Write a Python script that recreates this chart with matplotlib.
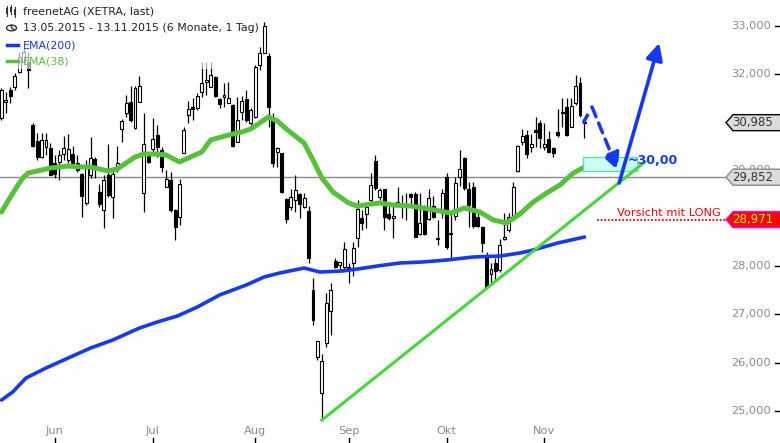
import matplotlib
matplotlib.use("Agg")
from matplotlib import pyplot as plt
from matplotlib.patches import Polygon, Rectangle, Circle

# daily candles 13.05.2015 - 13.11.2015 (freenet AG, XETRA)
opens = [31082, 31414, 31664, 31726, 32038, 32246, 32246, 30937, 30604, 30272,
         30479, 30459, 30147, 30168, 30334, 30209, 30334, 30147, 29918, 29316,
         29898, 30230, 29544, 29170, 29898, 29440, 30043, 30853, 31186, 31414,
         30874, 31414, 29524, 30313, 30438, 30729, 30417, 29648, 29794, 29170,
         29025, 30355, 31144, 31311, 31290, 31622, 31830, 31726, 31934, 31477,
         31518, 31394, 31352, 30583, 31207, 31477, 30978, 31103, 32183, 32433,
         32370, 31103, 30376, 30355, 29399, 29233, 29378, 29503, 29233, 29150,
         27508, 26115, 25368, 26407, 27071, 28111, 28027, 27986, 27986, 28069,
         28588, 29004, 29087, 29378, 30188, 29440, 29607, 29087, 29004, 29336,
         29274, 29233, 29503, 29503, 28671, 29170, 28983, 29253, 28588, 29170,
         29856, 28692, 29046, 29856, 30251, 29607, 29648, 29025, 28817, 28173,
         27840, 28069, 27924, 28568, 28755, 29004, 29981, 30583, 30729, 30479,
         30833, 30978, 30479, 30646, 30459, 30791, 31207, 31311, 30895, 31394,
         31809, 31000]
highs = [31705, 31622, 31726, 32017, 32453, 32536, 32453, 30978, 30770, 30770,
         30770, 30563, 30313, 30417, 30708, 30750, 30500, 30313, 29939, 30209,
         30687, 30272, 29711, 29898, 30542, 30064, 30500, 31061, 31560, 31747,
         31747, 31955, 31186, 30376, 31082, 30937, 30479, 30001, 29960, 29191,
         29814, 30895, 31435, 31498, 31601, 32246, 32246, 32246, 31955, 31498,
         31809, 31830, 31380, 31518, 31539, 31664, 31290, 32183, 32557, 33077,
         32433, 31186, 30479, 30355, 29420, 29607, 29898, 29524, 29524, 29253,
         27757, 26448, 26178, 27446, 27653, 28173, 28090, 28505, 28069, 28505,
         29378, 29170, 29316, 29939, 30313, 29627, 29607, 29295, 29295, 29648,
         29482, 29524, 29524, 29544, 29524, 29274, 29607, 29461, 28963, 29607,
         29939, 29087, 29856, 30417, 30272, 29752, 29752, 29170, 28838, 28297,
         28069, 28173, 28568, 29108, 29108, 29752, 30521, 30853, 30833, 30750,
         31103, 31040, 30978, 30812, 30479, 31269, 31498, 31498, 31498, 31976,
         31934, 31040]
lows = [31040, 31186, 31394, 31664, 32017, 32204, 31705, 30479, 30209, 30251,
        30313, 29898, 29835, 29794, 30209, 30147, 30064, 29960, 29025, 29274,
        29835, 29835, 29233, 28796, 29440, 29004, 29960, 30583, 31103, 30999,
        30853, 31414, 29129, 30147, 30376, 30272, 29960, 29648, 29129, 28547,
        28859, 30355, 30978, 31040, 31248, 31518, 31560, 31726, 31518, 31290,
        31311, 31394, 30480, 30583, 31040, 30999, 30937, 31082, 32079, 32433,
        30895, 30064, 30064, 29524, 28900, 29170, 29129, 29004, 29212, 28069,
        26780, 26053, 24806, 26323, 26573, 27965, 27924, 27924, 27653, 27799,
        28401, 28755, 28796, 29336, 29586, 29378, 28755, 28963, 28588, 29274,
        29004, 28963, 29274, 28609, 28651, 28651, 28963, 29004, 28443, 29004,
        28360, 28173, 28963, 29669, 29586, 28817, 28796, 28817, 28297, 27570,
        27653, 27716, 27882, 28547, 28713, 29004, 29960, 30521, 30251, 30376,
        30479, 30459, 30417, 30376, 30272, 30687, 30895, 30708, 30895, 31352,
        31103, 30666]
closes = [31664, 31456, 31539, 31955, 32350, 32453, 32079, 30500, 30272, 30625,
          30625, 29898, 29918, 30313, 30459, 30438, 30147, 30001, 29461, 30043,
          30251, 30022, 29295, 29794, 29482, 29918, 30147, 31020, 31394, 31040,
          31705, 31747, 30542, 30168, 30646, 30479, 30064, 29814, 29170, 28817,
          29711, 30833, 31269, 31269, 31539, 31809, 31872, 31976, 31539, 31373,
          31560, 31498, 30500, 31040, 31435, 31040, 31248, 32142, 32433, 32994,
          31311, 30147, 30459, 29544, 28983, 29440, 29586, 29295, 29420, 28173,
          26884, 26448, 26033, 27238, 27508, 27986, 28090, 28360, 27965, 28381,
          29191, 28900, 29233, 29690, 29627, 29586, 29025, 29004, 29046, 29295,
          29233, 29295, 29440, 28609, 28900, 28671, 29420, 29025, 28568, 29524,
          28401, 28671, 29731, 30022, 29627, 29274, 28838, 28838, 28485, 27570,
          27944, 27903, 28443, 28609, 29025, 29648, 30500, 30708, 30334, 30542,
          30791, 30666, 30542, 30376, 30355, 30729, 31186, 30729, 31331, 31747,
          31144, 30985]

# EMA(38), read at candle positions
ema38_x = [0, 2, 4, 5, 6, 9, 11, 13, 15, 18, 20, 22, 24, 26, 28, 30, 32, 35, 37, 40,
           42, 45, 47, 51, 54, 56, 58, 60, 62, 64, 66, 68, 70, 72, 74.5, 78, 80, 83,
           85, 88, 92, 96, 98.5, 101, 104, 107.5, 110.5, 113.5, 116.5, 119.5, 122.5,
           125.5, 128.5, 131]
ema38 = [29129, 29440, 29731, 29856, 29939, 30001, 30043, 30064, 30085, 30064,
         30064, 30022, 29981, 30022, 30147, 30272, 30334, 30334, 30313, 30168,
         30251, 30376, 30625, 30729, 30791, 30853, 30978, 31103, 31020, 30853,
         30708, 30563, 30209, 29835, 29544, 29316, 29253, 29295, 29316, 29274,
         29253, 29191, 29150, 29108, 29212, 29129, 28963, 28900, 29087, 29336,
         29524, 29690, 29939, 30064]

# EMA(200)
ema200_x = [0, 2.5, 5.5, 10, 15.5, 20, 25, 31, 35, 39.5, 44, 49, 55, 59, 62.5, 68,
            71.5, 76.5, 80, 84.5, 89.5, 94.5, 100, 106, 112, 116.5, 119.5, 125, 131]
ema200 = [25222, 25388, 25679, 25887, 26116, 26302, 26469, 26718, 26843, 26967,
          27154, 27404, 27612, 27778, 27861, 27965, 27882, 27903, 27944, 28007,
          28069, 28090, 28131, 28194, 28214, 28277, 28339, 28485, 28609]

month_pos = [12, 34, 57, 78, 100, 122]
month_names = ["Jun", "Jul", "Aug", "Sep", "Okt", "Nov"]
# 31,000 and 29,000 sit under the price tags
price_ticks = [25000, 26000, 27000, 28000, 30000, 32000, 33000]
hidden_ticks = [29000, 31000]

# drawings
trend_x = [72, 144.6]
trend_y = [24806, 30170]
dash_x = [130.7, 132.7, 138.5]
dash_y = [30978, 31310, 30001]
up_x = [138.8, 147.8]
up_y = [29731, 32640]
box_x = [130.7, 142.8]
box_y = [29981, 30272]
last_price = 30985
line_price = 29852
warn_price = 28971

W, H = 780, 443
fig = plt.figure(figsize=(W / 100, H / 100), dpi=100)
ax = fig.add_axes([0, 0, 1, 1])
ax.set_xlim(-0.337, 174.94)
ax.set_ylim(24329, 33534)
ax.axis("off")

xpp = (174.94 + 0.337) / W      # x data per pixel
ypp = (33534 - 24329) / H       # price per pixel
blue = "#1438ff"
gray = "#8a8a8a"
green = "#55c23a"


def px(x):
    return x * xpp - 0.337


# candles
n = len(closes)
for i in range(n):
    o, h, l, c = opens[i], highs[i], lows[i], closes[i]
    ax.vlines(i, l, h, color="black", lw=0.9, zorder=2)
    up = c >= o
    lo, hi = min(o, c), max(o, c)
    if hi - lo < ypp:
        hi = lo + ypp
    ax.add_patch(Rectangle((i - 0.33, lo), 0.66, hi - lo, facecolor="white" if up else "black",
                           edgecolor="black", lw=0.8, zorder=3))

# reference lines
ax.plot([-1, px(726)], [line_price, line_price], color=gray, lw=1, zorder=1)
ax.plot([133.8, px(726)], [warn_price, warn_price], color="red", lw=1.3, ls=(0, (1, 1)), zorder=4)
ax.text(161.6, warn_price + 7 * ypp, "Vorsicht mit LONG", color="red", fontsize=8.2,
        ha="right", va="center", zorder=5)

# EMAs
ax.plot(ema200_x, ema200, color=blue, lw=2.6, zorder=4, solid_capstyle="round")
ax.plot(ema38_x, ema38, color=green, lw=3.6, zorder=4, solid_capstyle="round")

# trend line
ax.plot(trend_x, trend_y, color="#45d83a", lw=2.2, zorder=5)

# target box
ax.add_patch(Rectangle((box_x[0], box_y[0]), box_x[1] - box_x[0], box_y[1] - box_y[0],
                       facecolor="#ccfff2", edgecolor="#55e0c0", lw=1, zorder=4))
ax.text(140.8, 30209, "~30,00", color=blue, fontsize=9, fontweight="bold",
        ha="left", va="center", zorder=6)

# dashed arrow
ax.plot(dash_x[:2], dash_y[:2], color=blue, lw=2.5, ls=(0, (3, 2)), zorder=6)
ax.annotate("", xy=(dash_x[2], dash_y[2]), xytext=(dash_x[1], dash_y[1]),
            arrowprops=dict(arrowstyle="-|>,head_length=1.0,head_width=0.5", color=blue,
                            lw=2.5, ls=(0, (3, 2)), shrinkA=0, shrinkB=0), zorder=6)
# solid arrow
ax.annotate("", xy=(up_x[1], up_y[1]), xytext=(up_x[0], up_y[0]),
            arrowprops=dict(arrowstyle="-|>,head_length=1.0,head_width=0.5", color=blue,
                            lw=2.6, shrinkA=0, shrinkB=0), zorder=6)

# right price axis
for p in price_ticks:
    ax.text(px(771), p, f"{p:,}", color=gray, fontsize=8.2, ha="right", va="center", zorder=6)
for p in price_ticks + hidden_ticks:
    ax.plot([px(775), px(779)], [p, p], color="black", lw=1, zorder=6)


def price_tag(price, face, edge, txt):
    hh = 8 * ypp
    ax.add_patch(Polygon([(px(726), price), (px(733), price + hh), (px(781), price + hh),
                          (px(781), price - hh), (px(733), price - hh)], closed=True,
                         facecolor=face, edgecolor=edge, lw=1, zorder=7))
    ax.text(px(753), price, f"{price:,}", color=txt, fontsize=8.5,
            ha="center", va="center", zorder=8)


price_tag(last_price, "#dcdcdc", "black", "#333333")
price_tag(line_price, "#dcdcdc", gray, "#333333")
price_tag(warn_price, "red", "#ff00ff", "yellow")

# month axis
for pos, name in zip(month_pos, month_names):
    ax.text(pos, 33534 - 431 * ypp, name, color=gray, fontsize=8.2, ha="center", va="center")
    ax.plot([pos, pos], [33534 - 438 * ypp, 33534 - 443 * ypp], color="black", lw=1)

# legend block (translucent white behind the header texts)
ax.add_patch(Rectangle((0, 1 - 69 / H), 0.28, 69 / H, transform=ax.transAxes, facecolor="white",
                       alpha=0.65, edgecolor="none", zorder=8))
fig.text(23 / W, 1 - 12 / H, "freenetAG (XETRA, last)", color="#222222", fontsize=7.9, va="center", zorder=9)
fig.text(23 / W, 1 - 28 / H, "13.05.2015 - 13.11.2015 (6 Monate, 1 Tag)", color="#222222",
         fontsize=7.9, va="center", zorder=9)
fig.text(23 / W, 1 - 45 / H, "EMA(200)", color=blue, fontsize=7.9, va="center", zorder=9)
fig.text(23 / W, 1 - 61 / H, "EMA(38)", color=green, fontsize=7.9, va="center", zorder=9)
fig.add_artist(plt.Line2D([7 / W, 18 / W], [1 - 45 / H, 1 - 45 / H], color=blue, lw=2.5))
fig.add_artist(plt.Line2D([7 / W, 18 / W], [1 - 61 / H, 1 - 61 / H], color=green, lw=2.5))
# small icons
for k, (a, b, c) in enumerate([(6, 10, 16), (5, 9, 14), (7, 11, 17)]):
    xx = (7 + 4 * k) / W
    fig.add_artist(plt.Line2D([xx, xx], [1 - a / H, 1 - c / H], color="#333333", lw=0.8))
    fig.add_artist(Rectangle((xx - 1.2 / W, 1 - c / H + 2 / H), 2.4 / W, (c - b) / H,
                             transform=fig.transFigure, facecolor="#333333", edgecolor="none"))
fig.add_artist(Circle((11.5 / W, 1 - 28 / H), 5 / W, transform=fig.transFigure, fill=False,
                      edgecolor="#333333", lw=1))
fig.add_artist(plt.Line2D([11.5 / W, 11.5 / W, 14 / W], [1 - 25 / H, 1 - 28 / H, 1 - 29.5 / H],
                          color="#333333", lw=1))

fig.savefig("out.png", dpi=100)
